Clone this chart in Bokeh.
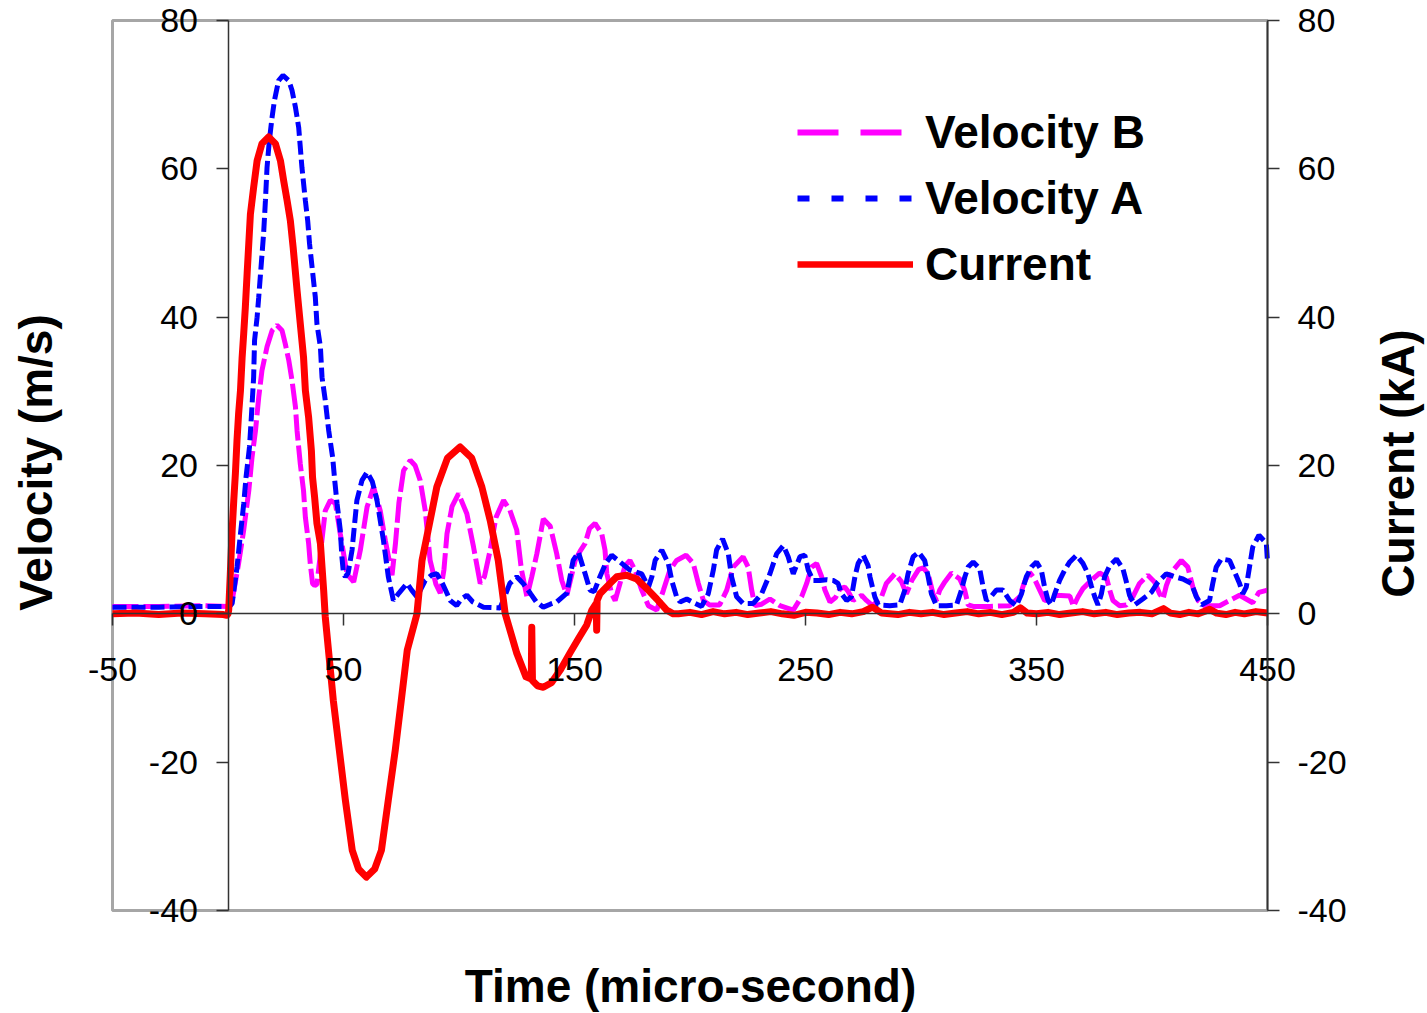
import numpy as np
from bokeh.plotting import figure
from bokeh.models import (Range1d, LinearAxis, FixedTicker, Legend, LegendItem,
                          Label, NumeralTickFormatter)
from bokeh.embed import file_html
from bokeh.resources import INLINE

# ---------------- data ----------------
x_ticks = [-50, 50, 150, 250, 350, 450]
y_ticks = [-40, -20, 0, 20, 40, 60, 80]

time_c = [-50, -40, -30, -20, -10, -2, -0.5, 0, 0.3, 1.0,
          1.8, 2.5, 3.2, 3.9, 4.6, 5.4, 6.1, 6.8, 7.5, 8.3,
          9.7, 11.1, 12.6, 14.7, 17.6, 20.5, 22.7, 24.1, 25.6, 27.0,
          28.2, 29.9, 31.3, 32.7, 33.5, 34.9, 36.1, 36.6, 37.5, 38.5,
          40.0, 40.7, 41.4, 42.1, 45.6, 48.2, 50.8, 53.8, 56.5, 59.9,
          63.5, 66.4, 69.4, 72.4, 75.0, 77.6, 81.8, 84.0, 87.5, 90.4,
          95.0, 100.5, 105.5, 109.9, 113.5, 117.0, 120.0, 125.0, 129.0, 131.3,
          131.5, 131.8, 134.0, 136.5, 140.0, 144.0, 148.0, 152.0, 155.3, 157.5,
          159.4, 159.6, 159.8, 161.0, 165.4, 168.3, 172.6, 176.9, 181.3, 185.6,
          189.9, 192.8, 195, 200, 205, 210, 215, 220, 225, 230,
          235, 240, 245, 250, 255, 260, 265, 270, 275, 279,
          283, 290, 295, 300, 305, 310, 315, 320, 325, 330,
          335, 340, 343, 346, 350, 355, 360, 365, 370, 375,
          380, 385, 390, 395, 400, 405, 408, 412, 416, 420,
          425, 428, 432, 436, 440, 445, 450]
current = [0.0, 0.1, -0.1, 0.1, 0.0, -0.1, -0.2, 0.0, 0.5, 5.4,
           11.3, 15.3, 18.9, 23.4, 27.0, 30.1, 34.5, 37.8, 41.3, 46.0,
           53.9, 57.5, 61.1, 63.4, 64.3, 63.4, 61.1, 58.4, 55.7, 53.0,
           49.4, 43.6, 39.1, 34.6, 30.1, 26.5, 22.0, 18.4, 15.7, 12.2,
           9.5, 6.3, 3.2, -0.4, -11.7, -18.4, -25.1, -31.9, -34.4, -35.5,
           -34.4, -31.9, -25.1, -18.4, -11.7, -4.9, 0.0, 7.2, 12.6, 17.1,
           21.0, 22.5, 21.0, 17.1, 12.6, 7.2, 0.0, -5.3, -8.5, -8.8,
           -1.8, -9.0, -9.7, -9.9, -9.3, -7.5, -5.3, -3.2, -1.5, 0.5,
           1.4, -2.2, 1.8, 2.7, 4.1, 5.0, 5.2, 4.7, 3.4, 2.0,
           0.5, 0.0, 0.0, 0.2, -0.1, 0.3, 0.0, 0.2, -0.1, 0.1,
           0.3, 0.0, -0.2, 0.2, 0.1, -0.1, 0.2, 0.0, 0.3, 0.9,
           0.1, -0.1, 0.2, 0.0, 0.2, -0.1, 0.1, 0.3, 0.0, 0.2,
           -0.1, 0.2, 0.8, 0.1, 0.0, 0.2, -0.1, 0.1, 0.3, 0.0,
           0.2, -0.1, 0.1, 0.2, 0.0, 0.7, 0.1, -0.1, 0.2, 0.0,
           0.6, 0.1, -0.1, 0.2, 0.0, 0.3, 0.1]

time_a = [-50, -30, -10, 0, 1.0, 1.8, 3.9, 5.4, 6.8, 7.8,
          9.3, 10.1, 11.1, 11.5, 12.6, 13.3, 15.4, 16.2, 16.9, 17.9,
          19.1, 20.1, 21.9, 23.8, 26.3, 27.7, 29.2, 30.6, 31.3, 32.0,
          33.5, 34.5, 35.3, 37.8, 38.5, 40.0, 40.7, 42.1, 43.6, 45.3,
          46.2, 47.2, 48.6, 49.3, 50.0, 50.8, 52.0, 53.7, 55.8, 58.0,
          60.2, 62.5, 64.5, 67.3, 69.4, 71.6, 74.0, 77.5, 79.5, 81.8,
          85.4, 88.0, 90.4, 93.0, 96.2, 99.0, 101.0, 103.4, 106.0, 110.6,
          117.8, 120.0, 122.0, 125.0, 128.0, 130.8, 133.5, 136.5, 139.5, 142.3,
          146.7, 149.4, 151.7, 154.6, 156.7, 158.5, 161.0, 163.5, 166.1, 169.7,
          174.0, 179.1, 182.0, 183.5, 184.9, 187.8, 190.6, 192.1, 194.2, 195.7,
          198.6, 202.2, 205.0, 207.9, 210.1, 211.5, 214.1, 216.6, 218.0, 220.2,
          223.0, 227.4, 231.0, 234.6, 237.5, 240.4, 242.5, 244.7, 247.6, 249.7,
          251.2, 253.3, 256.2, 259.1, 262.0, 264.1, 265.6, 267.8, 269.9, 271.4,
          272.8, 275.0, 277.1, 277.9, 280.0, 281.5, 286.5, 290.8, 293.0, 294.4,
          296.6, 299.0, 301.6, 303.1, 304.5, 306.7, 311.0, 315.4, 317.5, 319.0,
          320.4, 322.6, 325.4, 326.9, 328.3, 330.0, 332.6, 335.5, 338.4, 341.3,
          343.5, 345.6, 347.8, 350.0, 352.1, 353.5, 355.0, 356.4, 357.9, 360.0,
          362.2, 364.4, 367.3, 370.1, 372.3, 373.7, 375.2, 376.6, 378.1, 379.5,
          381.7, 384.6, 387.4, 388.9, 390.3, 392.5, 396.0, 399.7, 402.6, 406.2,
          409.8, 413.4, 417.0, 419.2, 421.4, 424.9, 426.3, 427.8, 430.0, 433.6,
          435.8, 437.9, 439.3, 440.8, 442.2, 443.6, 446.3, 449.5, 450.0]
vel_a = [0.9, 0.9, 1.0, 1.0, 1.1, 1.4, 6.3, 10.8, 14.8, 18.4,
         22.5, 26.5, 31.9, 36.9, 40.0, 42.7, 51.2, 55.7, 60.2, 63.8,
         67.0, 69.2, 71.9, 72.6, 71.9, 70.6, 68.3, 65.6, 62.9, 60.2,
         55.7, 53.0, 49.9, 42.7, 39.1, 36.0, 31.9, 28.8, 24.7, 21.1,
         18.0, 14.9, 11.3, 7.7, 5.4, 5.0, 5.5, 8.6, 15.3, 18.0,
         19.1, 17.8, 15.3, 9.9, 5.0, 1.8, 2.8, 4.1, 3.2, 2.3,
         4.5, 5.2, 5.4, 4.0, 1.8, 1.1, 2.0, 2.5, 1.6, 0.9,
         0.8, 2.5, 4.1, 5.0, 4.0, 2.8, 1.6, 0.9, 1.3, 1.6,
         2.8, 7.2, 8.3, 5.4, 3.2, 3.0, 5.0, 6.8, 7.9, 7.0,
         5.9, 5.4, 3.6, 5.0, 7.2, 8.6, 6.8, 4.5, 2.3, 1.6,
         2.0, 1.4, 1.0, 2.7, 5.9, 8.6, 10.1, 8.1, 5.0, 2.3,
         1.4, 1.4, 2.7, 5.4, 8.1, 9.2, 7.7, 5.4, 7.7, 7.9,
         5.9, 4.5, 4.5, 4.6, 4.5, 4.1, 2.7, 1.8, 2.3, 5.0,
         6.8, 7.9, 6.5, 5.0, 2.3, 1.2, 1.1, 1.2, 3.2, 5.4,
         7.7, 8.3, 7.2, 5.0, 2.7, 1.1, 1.1, 1.2, 3.2, 5.0,
         6.3, 7.0, 6.1, 3.6, 1.8, 2.2, 3.2, 3.2, 1.8, 1.1,
         2.7, 5.0, 6.3, 7.0, 5.9, 3.6, 1.8, 1.2, 2.7, 4.5,
         5.9, 7.0, 7.9, 6.8, 5.4, 3.8, 2.3, 1.2, 2.7, 5.0,
         6.5, 7.4, 6.1, 4.3, 2.5, 1.2, 2.0, 2.9, 4.3, 5.4,
         5.0, 4.7, 4.1, 2.3, 1.2, 1.8, 4.1, 6.3, 7.4, 7.2,
         5.6, 4.1, 2.7, 3.6, 6.3, 9.0, 10.6, 9.5, 7.0]

time_b = [-50, -30, -10, 0, 1.0, 1.8, 4.6, 6.8, 9.0, 10.4,
          11.9, 13.3, 14.7, 16.9, 19.1, 21.2, 23.4, 24.8, 26.3, 27.7,
          29.2, 29.9, 31.3, 32.7, 33.5, 34.9, 35.6, 36.6, 37.5, 38.5,
          40.0, 42.1, 44.3, 46.5, 48.6, 51.5, 54.4, 57.3, 60.2, 63.0,
          65.9, 68.1, 71.0, 72.5, 74.0, 76.0, 78.9, 81.0, 83.2, 85.4,
          87.5, 90.0, 91.9, 93.5, 94.8, 97.0, 99.8, 103.4, 106.3, 109.2,
          111.0, 113.5, 116.0, 119.3, 122.0, 125.0, 127.0, 129.4, 131.5, 133.7,
          136.5, 139.5, 142.3, 144.5, 146.7, 150.3, 152.5, 154.6, 156.5, 158.9,
          161.8, 163.2, 164.0, 166.1, 167.6, 169.7, 171.9, 174.0, 176.2, 179.1,
          182.0, 185.6, 188.5, 191.3, 194.2, 198.3, 201.4, 203.6, 205.8, 208.5,
          212.8, 215.9, 218.7, 223.0, 225.2, 226.7, 228.1, 231.0, 234.6, 238.9,
          244.7, 248.3, 250.5, 252.6, 254.8, 257.0, 258.4, 260.6, 263.0, 265.0,
          267.0, 268.5, 270.6, 274.3, 276.4, 279.0, 282.9, 285.0, 288.7, 291.6,
          293.7, 296.0, 299.0, 301.0, 303.1, 305.2, 306.7, 308.1, 310.3, 313.2,
          316.8, 318.9, 320.4, 322.6, 329.8, 338.4, 342.7, 344.8, 347.0, 349.0,
          351.4, 353.5, 356.4, 358.6, 364.4, 366.0, 368.0, 370.1, 373.7, 377.3,
          380.2, 381.7, 383.1, 386.0, 388.9, 391.7, 394.6, 398.2, 401.1, 403.3,
          404.8, 406.2, 408.4, 412.7, 415.5, 417.7, 419.9, 422.8, 429.3, 433.6,
          437.9, 443.6, 446.3, 450.0]
vel_b = [1.0, 1.0, 1.1, 1.0, 1.2, 1.8, 6.8, 11.3, 16.6, 21.1,
         24.7, 29.2, 32.8, 36.0, 38.2, 38.9, 38.2, 36.4, 34.2, 31.5,
         27.9, 24.7, 20.2, 16.6, 13.0, 9.5, 6.8, 4.1, 3.8, 4.0,
         8.1, 13.9, 15.3, 14.9, 10.8, 5.4, 4.3, 8.6, 14.4, 17.1,
         13.9, 9.9, 5.2, 9.5, 15.0, 19.3, 20.7, 20.0, 18.0, 13.9,
         7.2, 4.0, 2.8, 6.0, 10.8, 14.5, 16.2, 13.5, 9.0, 4.1,
         5.0, 8.6, 13.0, 15.3, 14.0, 11.3, 6.0, 2.3, 5.0, 8.1,
         12.8, 11.8, 8.1, 4.5, 2.5, 7.2, 8.5, 9.5, 11.5, 12.2,
         10.8, 8.6, 5.4, 2.7, 1.8, 4.1, 6.5, 7.2, 5.9, 3.2,
         1.1, 0.5, 3.2, 5.9, 7.2, 7.9, 6.8, 4.1, 1.8, 1.2,
         1.2, 3.2, 6.3, 7.7, 6.3, 3.2, 1.1, 1.3, 2.0, 1.1,
         0.5, 2.3, 4.1, 6.3, 6.8, 5.0, 3.2, 1.6, 2.2, 3.4,
         3.6, 3.0, 1.8, 2.5, 1.8, 1.1, 2.3, 4.1, 5.4, 4.3,
         2.7, 4.5, 6.0, 6.2, 5.4, 2.7, 1.8, 3.2, 4.3, 5.5,
         4.7, 3.2, 1.2, 1.0, 1.0, 1.1, 2.3, 4.3, 5.6, 4.8,
         3.2, 1.8, 2.0, 2.5, 2.4, 1.0, 2.3, 3.4, 4.5, 5.5,
         5.0, 3.2, 1.8, 1.1, 1.2, 2.3, 4.1, 5.2, 4.3, 2.7,
         2.0, 3.8, 5.6, 7.2, 6.3, 3.6, 1.8, 1.1, 1.1, 1.8,
         2.5, 1.5, 2.9, 3.2]

# ---------------- layout constants (pixels) ----------------
W, H = 1427, 1013
BOX_L, BOX_R, BOX_T, BOX_B = 112, 1267, 20, 910   # plot box in the page

x_lo, x_hi = x_ticks[0], x_ticks[-1]
y_lo, y_hi = y_ticks[0], y_ticks[-1]
sx = (BOX_R - BOX_L) / (x_hi - x_lo)
sy = (BOX_B - BOX_T) / (y_hi - y_lo)
xr_start = x_lo - BOX_L / sx
xr_end = xr_start + W / sx
yr_end = y_hi + BOX_T / sy
yr_start = yr_end - H / sy

FONT = "Liberation Sans"
MAGENTA = "#FF00FF"
BLUE = "#0000FF"
RED = "#FF0000"

p = figure(width=W, height=H,
           x_range=Range1d(xr_start, xr_end), y_range=Range1d(yr_start, yr_end),
           output_backend="svg", toolbar_location=None,
           min_border_left=0, min_border_right=0,
           min_border_top=0, min_border_bottom=0)
p.title.visible = False
p.extra_y_ranges = {"cur": Range1d(yr_start, yr_end)}
p.grid.visible = False
p.outline_line_color = None
p.background_fill_color = "white"
p.border_fill_color = "white"

# grey plot-area border
p.quad(left=[x_lo], right=[x_hi], bottom=[y_lo], top=[y_hi],
       fill_color=None, line_color="#a6a6a6", line_width=3)


def style_axis(ax, ticks, standoff):
    ax.ticker = FixedTicker(ticks=ticks)
    ax.formatter = NumeralTickFormatter(format="0")
    ax.major_tick_out = 12
    ax.major_tick_in = 0
    ax.minor_tick_line_color = None
    ax.major_tick_line_color = "#333333"
    ax.major_tick_line_width = 1.5
    ax.axis_line_color = "#333333"
    ax.axis_line_width = 1.5
    ax.major_label_text_font = FONT
    ax.major_label_text_font_size = "34px"
    ax.major_label_text_color = "black"
    ax.major_label_standoff = standoff


xax = p.xaxis[0]
style_axis(xax, x_ticks, 32)
xax.fixed_location = 0
xax.bounds = (x_lo, x_hi)

yax = p.yaxis[0]
style_axis(yax, y_ticks, 18)
yax.fixed_location = 0
yax.bounds = (y_lo, y_hi)

rax = LinearAxis(y_range_name="cur")
style_axis(rax, y_ticks, 18)
rax.fixed_location = x_hi
rax.bounds = (y_lo, y_hi)
p.add_layout(rax, "right")

# ---------------- series ----------------
p.line(time_b, vel_b, line_color=MAGENTA, line_width=5, line_dash="26 5")
p.line(time_a, vel_a, line_color=BLUE, line_width=5, line_dash="14 5")
p.line(time_c, current, line_color=RED, line_width=7, y_range_name="cur",
       line_join="round")

# legend samples (legend uses the reference's longer dash look)
leg_b = p.line([np.nan], [np.nan], line_color=MAGENTA, line_width=6, line_dash="41 22")
leg_a = p.line([np.nan], [np.nan], line_color=BLUE, line_width=6, line_dash="12 22")
leg_c = p.line([np.nan], [np.nan], line_color=RED, line_width=6.5)

legend = Legend(items=[LegendItem(label="Velocity B", renderers=[leg_b]),
                       LegendItem(label="Velocity A", renderers=[leg_a]),
                       LegendItem(label="Current", renderers=[leg_c])],
                location=(797, H - 297),
                glyph_width=116, glyph_height=66, label_height=66,
                label_standoff=12, spacing=0, padding=0, margin=0,
                border_line_color=None, background_fill_alpha=0,
                label_text_font=FONT, label_text_font_style="bold",
                label_text_font_size="46px", label_text_color="black")
p.add_layout(legend)

# ---------------- axis titles ----------------
title_style = dict(text_align="center", text_baseline="middle", text_font=FONT,
                   text_font_style="bold", text_font_size="46px", text_color="black")
p.add_layout(Label(x=xr_start + 35 / sx, y=yr_end - 462 / sy,
                   text="Velocity (m/s)", angle=np.pi / 2, **title_style))
p.add_layout(Label(x=xr_start + 1397 / sx, y=yr_end - 463 / sy,
                   text="Current (kA)", angle=np.pi / 2, **title_style))
p.add_layout(Label(x=xr_start + 690 / sx, y=yr_end - 985 / sy,
                   text="Time (micro-second)", **title_style))

open("out.html", "w").write(file_html(p, INLINE))
